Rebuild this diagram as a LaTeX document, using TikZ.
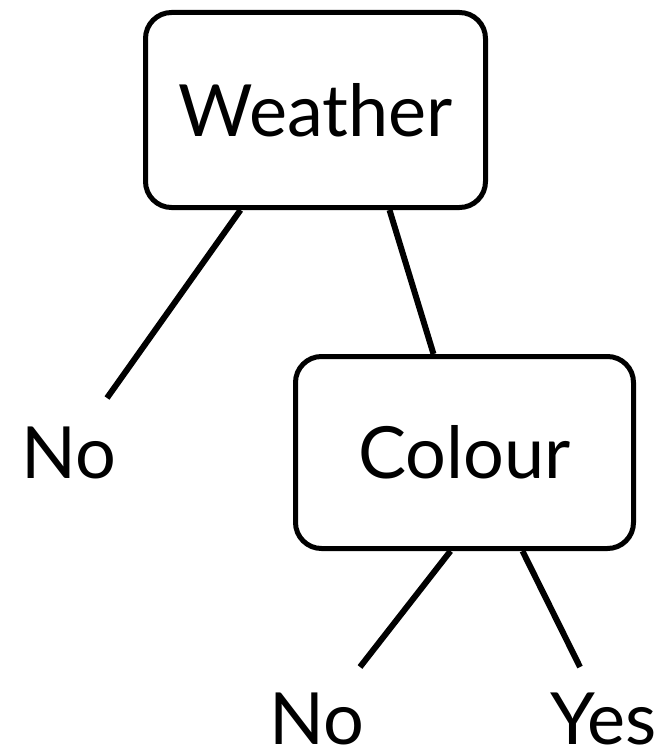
\documentclass[tikz,border=0pt]{standalone}
\usepackage{fontspec}
\setmainfont{Lato}
\usetikzlibrary{shadows}
\begin{document}
\begin{tikzpicture}[x=1pt,y=-1pt,
  box/.style={draw=black, line width=5pt, rounded corners=26pt, fill=white,
    drop shadow={opacity=0.25, shadow xshift=2pt, shadow yshift=-2pt},
    font=\fontsize{72}{72}\selectfont, inner sep=0pt},
  lbl/.style={font=\fontsize{72}{72}\selectfont, anchor=base, inner sep=0pt},
  conn/.style={line width=6pt}]
\useasboundingbox (0,0) rectangle (671,749);
\node[box, minimum width=340pt, minimum height=195pt] (W) at (315.5,110) {Weather};
\node[box, minimum width=338pt, minimum height=192pt] (C) at (464.5,452.5) {Colour};
\node[lbl] (n1) at (69,478) {No};
\node[lbl] (n2) at (317,744) {No};
\node[lbl] (y1) at (603.5,744) {Yes};
\coordinate (e1) at (107,398);
\coordinate (e2) at (360,667);
\coordinate (e3) at (580,667);
\draw[conn] ([xshift=-75pt]W.south) -- (e1);
\draw[conn] ([xshift=74pt]W.south) -- ([xshift=-31pt]C.north);
\draw[conn] ([xshift=-14pt]C.south) -- (e2);
\draw[conn] ([xshift=58pt]C.south) -- (e3);
\end{tikzpicture}
\end{document}
